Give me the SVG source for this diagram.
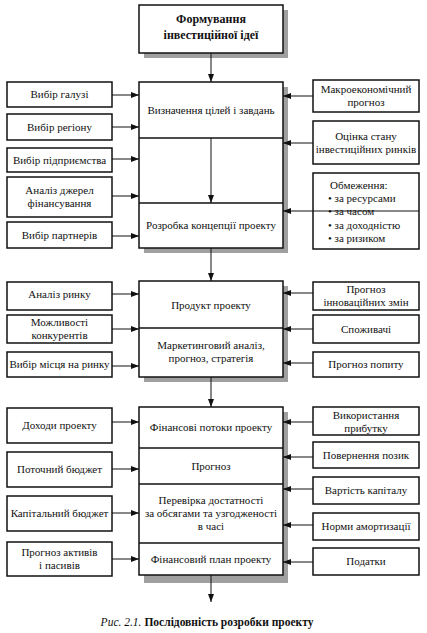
<svg xmlns="http://www.w3.org/2000/svg" width="427" height="633" viewBox="0 0 427 633">
<style>
.b{fill:#fff;stroke:#111;stroke-width:1.5}
.sh{fill:#a0a0a0}
.t{font-family:"Liberation Serif","DejaVu Serif",serif;font-size:11px;fill:#111;text-anchor:middle}
.tl{font-family:"Liberation Serif","DejaVu Serif",serif;font-size:11px;fill:#111}
.bo{font-weight:bold;font-size:12px}
.c line{stroke:#111;stroke-width:1;marker-end:url(#a)}
.d{stroke:#111;stroke-width:1.5}
</style>
<defs>
<marker id="a" viewBox="0 0 8 6" refX="8" refY="3" markerWidth="8" markerHeight="6" markerUnits="userSpaceOnUse" orient="auto">
<path d="M0,0 L8,3 L0,6 Z" fill="#111"/>
</marker>
</defs>
<rect width="427" height="633" fill="#fff"/>

<g id="n-top">
<rect class="sh" x="144" y="10" width="144" height="48"/>
<rect class="b" x="139" y="5" width="144" height="48"/>
<text class="t bo" x="211" y="23">Формування</text>
<text class="t bo" x="211" y="39">інвестиційної ідеї</text>
</g>

<g id="n-g1">
<rect class="sh" x="144" y="87" width="144" height="166"/>
<rect class="b" x="139" y="82" width="144" height="166"/>
<line class="d" x1="139" y1="138" x2="283" y2="138"/>
<line class="d" x1="139" y1="203" x2="283" y2="203"/>
<text class="t" x="211" y="114">Визначення цілей і завдань</text>
<text class="t" x="211" y="229">Розробка концепції проекту</text>
</g>

<g id="n-g2">
<rect class="sh" x="144" y="286" width="144" height="96"/>
<rect class="b" x="139" y="281" width="144" height="96"/>
<line class="d" x1="139" y1="328" x2="283" y2="328"/>
<text class="t" x="211" y="309">Продукт проекту</text>
<text class="t" x="211" y="349">Маркетинговий аналіз,</text>
<text class="t" x="211" y="362">прогноз, стратегія</text>
</g>

<g id="n-g3">
<rect class="sh" x="144" y="412" width="144" height="171"/>
<rect class="b" x="139" y="407" width="144" height="168"/>
<line class="d" x1="139" y1="448" x2="283" y2="448"/>
<line class="d" x1="139" y1="484" x2="283" y2="484"/>
<line class="d" x1="139" y1="543" x2="283" y2="543"/>
<text class="t" x="211" y="431">Фінансові потоки проекту</text>
<text class="t" x="211" y="470">Прогноз</text>
<text class="t" x="211" y="504">Перевірка достатності</text>
<text class="t" x="211" y="517">за обсягами та узгодженості</text>
<text class="t" x="211" y="530">в часі</text>
<text class="t" x="211" y="563">Фінансовий план проекту</text>
</g>

<g id="l1"><rect class="b" x="7" y="82" width="105" height="25"/><text class="t" x="59.5" y="98">Вибір галузі</text></g>
<g id="l2"><rect class="b" x="7" y="114" width="105" height="26"/><text class="t" x="59.5" y="131">Вибір регіону</text></g>
<g id="l3"><rect class="b" x="7" y="148" width="105" height="24"/><text class="t" x="59.5" y="164">Вибір підприємства</text></g>
<g id="l4"><rect class="b" x="7" y="177" width="105" height="40"/><text class="t" x="59.5" y="194">Аналіз джерел</text><text class="t" x="59.5" y="207">фінансування</text></g>
<g id="l5"><rect class="b" x="7" y="222" width="105" height="26"/><text class="t" x="59.5" y="239">Вибір партнерів</text></g>

<g id="r1"><rect class="b" x="313" y="80" width="106" height="32"/><text class="t" x="366" y="93">Макроекономічний</text><text class="t" x="366" y="106">прогноз</text></g>
<g id="r2"><rect class="b" x="313" y="121" width="106" height="43"/><text class="t" x="366" y="140">Оцінка стану</text><text class="t" x="366" y="153">інвестиційних ринків</text></g>
<g id="r3"><rect class="b" x="313" y="173" width="106" height="76"/>
<text class="tl" x="330" y="189">Обмеження:</text>
<text class="tl" x="328" y="202">• за ресурсами</text>
<text class="tl" x="328" y="215">• за часом</text>
<text class="tl" x="328" y="229">• за доходністю</text>
<text class="tl" x="328" y="242">• за ризиком</text>
</g>

<g id="l6"><rect class="b" x="7" y="282" width="105" height="28"/><text class="t" x="59.5" y="298">Аналіз ринку</text></g>
<g id="l7"><rect class="b" x="7" y="315" width="105" height="28"/><text class="t" x="59.5" y="326">Можливості</text><text class="t" x="59.5" y="339">конкурентів</text></g>
<g id="l8"><rect class="b" x="7" y="352" width="105" height="25"/><text class="t" x="59.5" y="368">Вибір місця на ринку</text></g>

<g id="r4"><rect class="b" x="313" y="282" width="106" height="28"/><text class="t" x="366" y="293">Прогноз</text><text class="t" x="366" y="306">інноваційних змін</text></g>
<g id="r5"><rect class="b" x="313" y="315" width="106" height="28"/><text class="t" x="366" y="333">Споживачі</text></g>
<g id="r6"><rect class="b" x="313" y="352" width="106" height="25"/><text class="t" x="366" y="368">Прогноз попиту</text></g>

<g id="l9"><rect class="b" x="7" y="408" width="105" height="35"/><text class="t" x="59.5" y="429">Доходи проекту</text></g>
<g id="l10"><rect class="b" x="7" y="452" width="105" height="35"/><text class="t" x="59.5" y="473">Поточний бюджет</text></g>
<g id="l11"><rect class="b" x="7" y="496" width="105" height="35"/><text class="t" x="59.5" y="517">Капітальний бюджет</text></g>
<g id="l12"><rect class="b" x="7" y="542" width="105" height="34"/><text class="t" x="59.5" y="556">Прогноз активів</text><text class="t" x="59.5" y="569">і пасивів</text></g>

<g id="r7"><rect class="b" x="313" y="407" width="106" height="28"/><text class="t" x="366" y="419">Використання</text><text class="t" x="366" y="432">прибутку</text></g>
<g id="r8"><rect class="b" x="313" y="442" width="106" height="26"/><text class="t" x="366" y="459">Повернення позик</text></g>
<g id="r9"><rect class="b" x="313" y="477" width="106" height="27"/><text class="t" x="366" y="494">Вартість капіталу</text></g>
<g id="r10"><rect class="b" x="313" y="513" width="106" height="27"/><text class="t" x="366" y="530">Норми амортизації</text></g>
<g id="r11"><rect class="b" x="313" y="548" width="106" height="27"/><text class="t" x="366" y="565">Податки</text></g>

<g id="connectors" class="c">
<line x1="211" y1="53" x2="211" y2="82"/>
<line x1="211" y1="138" x2="211" y2="203"/>
<line x1="211" y1="248" x2="211" y2="281"/>
<line x1="211" y1="377" x2="211" y2="407"/>
<line x1="211" y1="575" x2="211" y2="602"/>
<line x1="112" y1="95" x2="139" y2="95"/>
<line x1="112" y1="127" x2="139" y2="127"/>
<line x1="112" y1="159" x2="139" y2="159"/>
<line x1="112" y1="196" x2="139" y2="196"/>
<line x1="112" y1="236" x2="139" y2="236"/>
<line x1="313" y1="96" x2="283" y2="96"/>
<line x1="313" y1="143" x2="283" y2="143"/>
<line x1="419" y1="211" x2="283" y2="211"/>
<line x1="112" y1="294" x2="139" y2="294"/>
<line x1="112" y1="329" x2="139" y2="329"/>
<line x1="112" y1="366" x2="139" y2="366"/>
<line x1="313" y1="293" x2="283" y2="293"/>
<line x1="313" y1="329" x2="283" y2="329"/>
<line x1="313" y1="363" x2="283" y2="363"/>
<line x1="112" y1="422" x2="139" y2="422"/>
<line x1="112" y1="469" x2="139" y2="469"/>
<line x1="112" y1="513" x2="139" y2="513"/>
<line x1="112" y1="559" x2="139" y2="559"/>
<line x1="313" y1="422" x2="283" y2="422"/>
<line x1="313" y1="457" x2="283" y2="457"/>
<line x1="313" y1="489" x2="283" y2="489"/>
<line x1="313" y1="525" x2="283" y2="525"/>
<line x1="313" y1="562" x2="283" y2="562"/>
</g>

<text class="t" x="207" y="626" style="font-size:11.5px"><tspan font-style="italic">Рис. 2.1.</tspan> <tspan font-weight="bold">Послідовність розробки проекту</tspan></text>
</svg>
